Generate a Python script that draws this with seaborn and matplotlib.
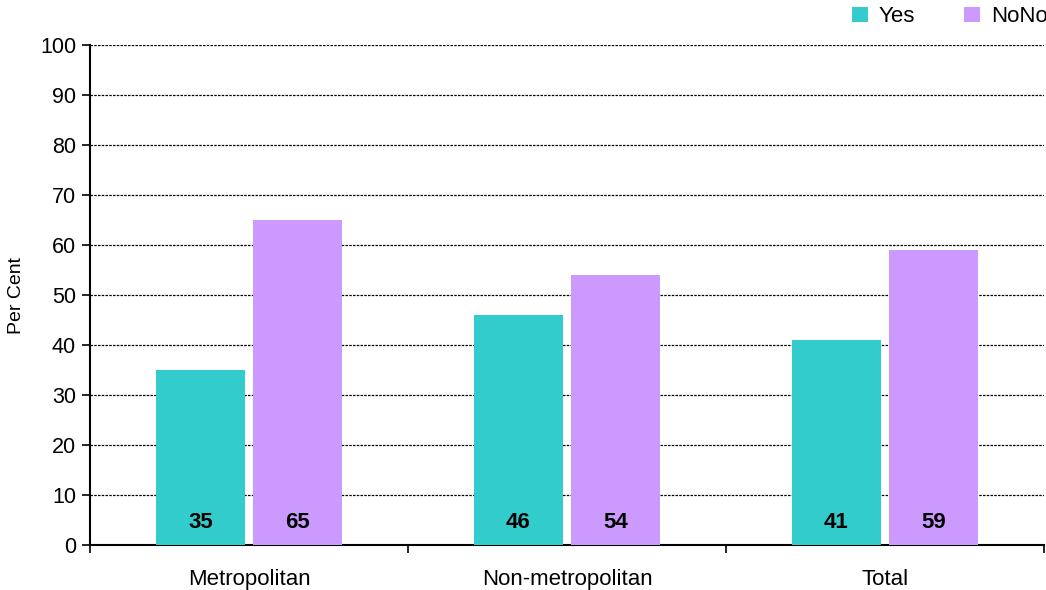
import matplotlib
matplotlib.use("Agg")
import matplotlib.pyplot as plt
import seaborn as sns
import pandas as pd

categories = ["Metropolitan", "Non-metropolitan", "Total"]
groups = ["Yes", "NoNo"]
yes_values = [35, 46, 41]
no_values = [65, 54, 59]
y_ticks = list(range(0, 101, 10))

df = pd.DataFrame({
    "area": categories * 2,
    "answer": [groups[0]] * 3 + [groups[1]] * 3,
    "value": yes_values + no_values,
})

sns.set_style("white")
plt.rcParams["font.family"] = ["Liberation Sans", "DejaVu Sans"]
plt.rcParams["text.color"] = "black"
plt.rcParams["xtick.color"] = "black"
plt.rcParams["ytick.color"] = "black"
plt.rcParams["axes.labelcolor"] = "black"

fig = plt.figure(figsize=(10.46, 5.9), dpi=100)
ax = fig.add_axes([90 / 1046, 45 / 590, (1044 - 90) / 1046, 500 / 590])

palette = {"Yes": "#33CCCC", "NoNo": "#CC99FF"}
sns.barplot(data=df, x="area", y="value", hue="answer", hue_order=groups,
            order=categories, palette=palette, width=0.612, gap=0.085,
            saturation=1, linewidth=0, ax=ax, zorder=3)

ax.set_ylim(0, 100)
ax.set_xlim(-0.5, 2.5)
ax.set_yticks(y_ticks)
ax.yaxis.grid(True, color="black", linestyle=(0, (2, 1)), linewidth=0.9)
ax.set_axisbelow(True)

for s in ["top", "right"]:
    ax.spines[s].set_visible(False)
for s in ["left", "bottom"]:
    ax.spines[s].set_color("black")
    ax.spines[s].set_linewidth(1.5)

ax.tick_params(axis="y", length=6, width=1.2, labelsize=15.5, pad=4, left=True)
ax.tick_params(axis="x", which="major", length=0, labelsize=16, pad=17)
ax.set_xticks([-0.5, 0.5, 1.5, 2.5], minor=True)
ax.tick_params(axis="x", which="minor", length=6, width=1.2, bottom=True)

ax.set_xlabel("")
ax.set_ylabel("Per Cent", fontsize=14, labelpad=11)

# value labels near the base of each bar
for container in ax.containers:
    for bar in container:
        h = bar.get_height()
        ax.text(bar.get_x() + bar.get_width() / 2, 4.6, f"{h:.0f}",
                ha="center", va="center", fontsize=16, fontweight="bold",
                zorder=5)

sns.move_legend(ax, loc="upper right", bbox_to_anchor=(1.013, 1.095),
                ncol=2, frameon=False, title=None, fontsize=16,
                handlelength=0.7, handleheight=0.7, handletextpad=0.5,
                columnspacing=2.2, borderaxespad=0)

fig.savefig("out.png", dpi=100)
